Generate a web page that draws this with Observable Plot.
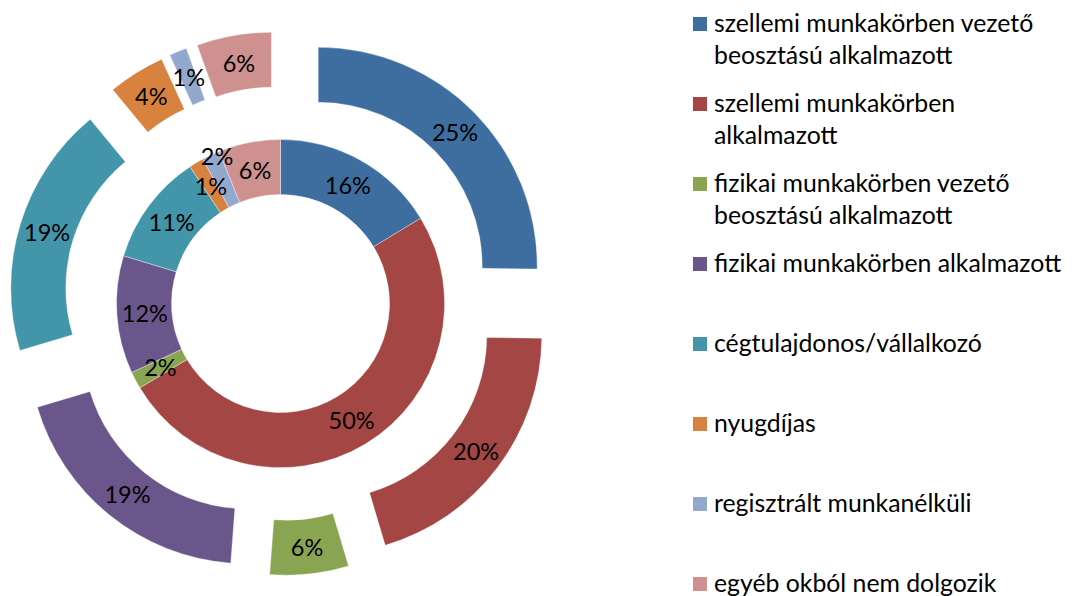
<!DOCTYPE html>
<html><head><meta charset="utf-8">
<script src="https://cdn.jsdelivr.net/npm/d3@7"></script>
<script src="https://cdn.jsdelivr.net/npm/@observablehq/plot@0.6"></script>
<style>
body{margin:0;background:#fff;font-family:Lato,"Open Sans",sans-serif;}
#wrap{position:relative;width:1073px;height:596px;overflow:hidden;}
#chart{position:absolute;left:0;top:0;}
#legend{position:absolute;left:693px;top:0;width:380px;height:596px;}
.item{position:absolute;left:0;display:flex;align-items:flex-start;}
.sw{width:14px;height:14px;margin-top:10px;margin-right:7px;flex:none;}
.lab{font-size:24.8px;line-height:32px;color:#000;width:356px;}
</style></head><body>
<div id="wrap"><div id="chart"></div><div id="legend"></div></div>
<script>
const categories = [
  "szellemi munkakörben vezető beosztású alkalmazott",
  "szellemi munkakörben alkalmazott",
  "fizikai munkakörben vezető beosztású alkalmazott",
  "fizikai munkakörben alkalmazott",
  "cégtulajdonos/vállalkozó",
  "nyugdíjas",
  "regisztrált munkanélküli",
  "egyéb okból nem dolgozik"
];
const colors = ["#3D6E9F", "#A34644", "#8AA551", "#6B568C", "#4395AA", "#D7833F", "#93A8CD", "#CE918F"];
const innerValues = [16.3, 50.1, 1.7, 11.6, 11.0, 1.45, 1.75, 6.1];
const outerValues = [25.2, 20.2, 5.8, 19.2, 18.6, 4.2, 1.3, 5.5];

const W = 1073, H = 596;
const CX = 280.5, CY = 303.5;       // ring centre in pixels
const innerR = [109, 164];
const outerR = [164, 219];
const explode = 53;

const pie = d3.pie().sort(null).value(d => d.value);
function build(values, radii, offset, ring) {
  const arcs = pie(values.map((v, i) => ({category: categories[i], value: v})));
  return arcs.map((a, i) => {
    const mid = (a.startAngle + a.endAngle) / 2;
    const dx = offset * Math.sin(mid), dy = -offset * Math.cos(mid);
    let rl = (radii[0] + radii[1]) / 2;
    let lx = dx + rl * Math.sin(mid), ly = dy - rl * Math.cos(mid);
    if (ring === "inner" && i === 6) { // label pushed outward to avoid overlap
      const m = mid + 0.03;
      lx = (radii[1] - 3) * Math.sin(m); ly = -(radii[1] - 3) * Math.cos(m);
    }
    return {ring, category: a.data.category, value: a.data.value, start: a.startAngle, end: a.endAngle,
            r0: radii[0], r1: radii[1], dx, dy, lx, ly, label: Math.round(a.data.value) + "%"};
  });
}
const wedges = [...build(innerValues, innerR, 0, "inner"), ...build(outerValues, outerR, explode, "outer")];

function ringMark(index, scales, values, dims) {
  const g = d3.create("svg:g");
  const k = scales.x(1) - scales.x(0);
  const arc = d3.arc();
  g.selectAll("path").data(wedges).join("path")
    .attr("transform", d => `translate(${scales.x(d.dx)},${scales.y(d.dy)})`)
    .attr("d", d => arc({innerRadius: d.r0 * k, outerRadius: d.r1 * k, startAngle: d.start, endAngle: d.end}))
    .attr("fill", d => scales.color(d.category))
    .attr("stroke", "#ffffff").attr("stroke-opacity", 0.5).attr("stroke-width", 0.7);
  return g.node();
}

const chart = Plot.plot({
  width: W, height: H, margin: 0,
  x: {domain: [-CX, W - CX], range: [0, W], axis: null},
  y: {domain: [-CY, H - CY], range: [0, H], axis: null},
  color: {domain: categories, range: colors},
  style: {fontFamily: "Lato, 'Open Sans', sans-serif", background: "transparent"},
  marks: [
    ringMark,
    Plot.text(wedges, {x: "lx", y: "ly", text: "label", fontSize: 23.5, fill: "#000",
      textAnchor: "middle", lineAnchor: "middle", dy: 1})
  ]
});
document.getElementById("chart").appendChild(chart);

const legend = d3.select("#legend");
categories.forEach((c, i) => {
  const it = legend.append("div").attr("class", "item").style("top", (7 + 80 * i) + "px");
  it.append("div").attr("class", "sw").style("background", colors[i]);
  it.append("div").attr("class", "lab").text(c);
});
</script>
</body></html>
